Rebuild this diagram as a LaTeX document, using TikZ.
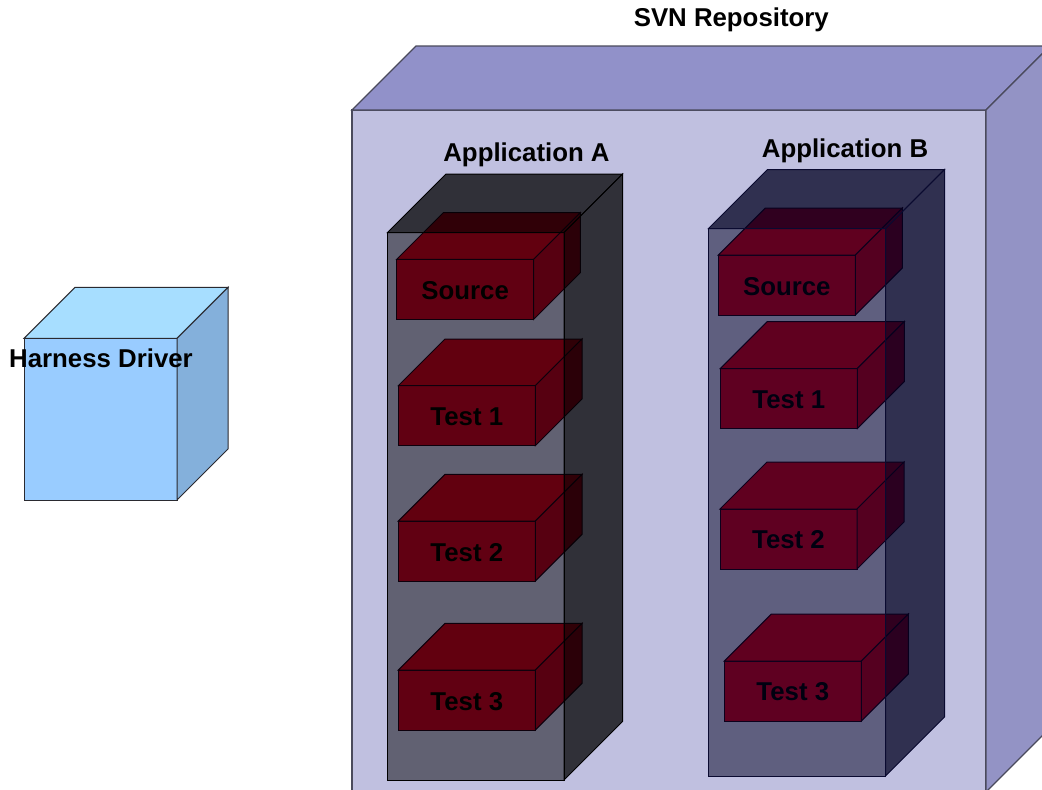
\documentclass[tikz,border=0pt]{standalone}
\usepackage{fontspec}
\setmainfont{Liberation Sans}
\definecolor{repoFront}{HTML}{C0C0E0}
\definecolor{repoTop}{HTML}{9191C9}
\definecolor{repoSide}{HTML}{9393C5}
\definecolor{repoLine}{HTML}{4A4A5C}
\definecolor{hdFront}{HTML}{99CCFF}
\definecolor{hdTop}{HTML}{A7DEFF}
\definecolor{hdSide}{HTML}{84B0DB}
\definecolor{hdLine}{HTML}{2A2A30}
\definecolor{redFront}{HTML}{C00024}
\definecolor{redTop}{HTML}{C2001E}
\definecolor{redSide}{HTML}{AC0022}
\definecolor{redLine}{HTML}{1A0018}
\definecolor{appB}{HTML}{000020}
\definecolor{appBLine}{HTML}{0A0A30}
\newcommand\boxcube[6]{%
  \path[#6front] (#1,#2) rectangle ++(#3,#4);
  \path[#6top] (#1,#2) -- ++(#5,-#5) -- ++(#3,0) -- ++(-#5,#5) -- cycle;
  \path[#6side] (#1+#3,#2) -- ++(#5,-#5) -- ++(0,#4) -- ++(-#5,#5) -- cycle;
}
\tikzset{
  lbl/.style={font=\bfseries\fontsize{25.8}{30}\selectfont, text=black, inner sep=0pt, anchor=base},
  repofront/.style={fill=repoFront, draw=repoLine, line width=1.3pt},
  repotop/.style={fill=repoTop, draw=repoLine, line width=1.3pt},
  reposide/.style={fill=repoSide, draw=repoLine, line width=1.3pt},
  hdfront/.style={fill=hdFront, draw=hdLine, line width=1pt},
  hdtop/.style={fill=hdTop, draw=hdLine, line width=1pt},
  hdside/.style={fill=hdSide, draw=hdLine, line width=1pt},
  redfront/.style={fill=redFront, draw=redLine, line width=1pt},
  redtop/.style={fill=redTop, draw=redLine, line width=1pt},
  redside/.style={fill=redSide, draw=redLine, line width=1pt},
  appafront/.style={fill=black, fill opacity=0.49, draw=black, line width=1pt},
  appatop/.style={fill=black, fill opacity=0.75, draw=black, line width=1pt},
  appaside/.style={fill=black, fill opacity=0.75, draw=black, line width=1pt},
  appbfront/.style={fill=appB, fill opacity=0.5, draw=appBLine, line width=1pt},
  appbtop/.style={fill=appB, fill opacity=0.75, draw=appBLine, line width=1pt},
  appbside/.style={fill=appB, fill opacity=0.75, draw=appBLine, line width=1pt},
}
\begin{document}
\begin{tikzpicture}[x=1pt,y=-1pt]
\useasboundingbox (0,0) rectangle (1042,790);
\clip (0,0) rectangle (1042,790);
\fill[white] (0,0) rectangle (1042,790);
% SVN repository
\boxcube{352}{110}{634}{682}{64}{repo}
\node[lbl] (svn) at (731.3,26.7) {SVN Repository};
% Harness driver
\boxcube{24}{338.3}{153}{161.7}{51}{hd}
\node[lbl] (hd) at (101,367.3) {Harness Driver};
% red boxes of application A
\boxcube{396.7}{259.3}{137}{60}{46.7}{red}
\boxcube{398.3}{385.7}{137}{60}{46.7}{red}
\boxcube{398.3}{521}{137}{60}{46.7}{red}
\boxcube{398.3}{670}{137}{60}{46.7}{red}
\node[lbl] (srcA) at (465.2,299.3) {Source};
\node[lbl] (t1A) at (466.8,425.7) {Test 1};
\node[lbl] (t2A) at (466.8,561) {Test 2};
\node[lbl] (t3A) at (466.8,710) {Test 3};
% red boxes of application B
\boxcube{718.3}{255}{137}{60}{47}{red}
\boxcube{720.3}{368.5}{137}{60}{47}{red}
\boxcube{720}{509}{137}{60}{47}{red}
\boxcube{724.3}{661}{137}{60}{47}{red}
\node[lbl] (srcB) at (786.8,295) {Source};
\node[lbl] (t1B) at (788.8,408.5) {Test 1};
\node[lbl] (t2B) at (788.5,548) {Test 2};
\node[lbl] (t3B) at (792.8,700.5) {Test 3};
% application containers
\boxcube{387.5}{232.5}{176.5}{547.5}{58.5}{appa}
\boxcube{708.5}{228.5}{177}{547.5}{59}{appb}
\node[lbl] (appA) at (526.5,161.7) {Application A};
\node[lbl] (appB) at (845,157.7) {Application B};
\end{tikzpicture}
\end{document}
